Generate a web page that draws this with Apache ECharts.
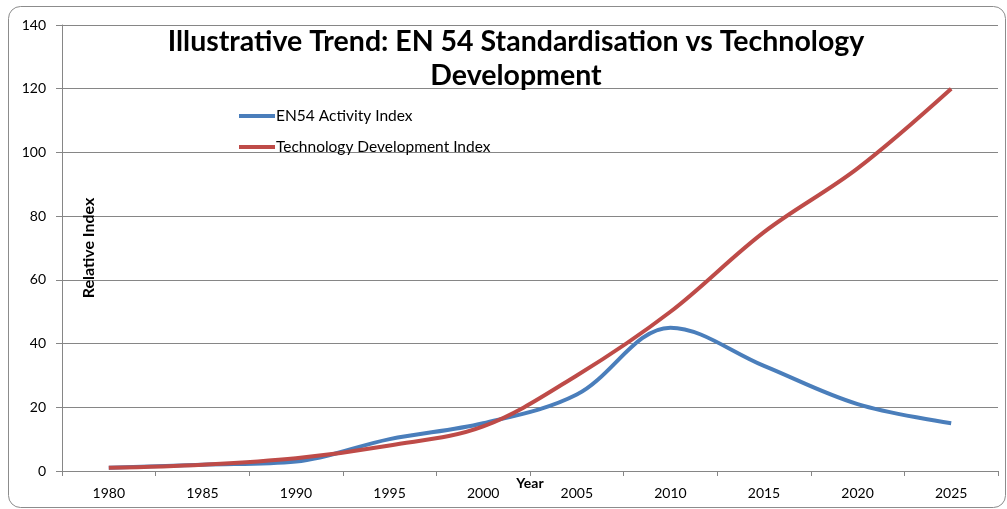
<!DOCTYPE HTML>
<html>
<head>
    <meta charset="utf-8">
    <title>EN 54 Standardisation vs Technology Development</title>
    <script type="text/javascript" src="https://cdn.jsdelivr.net/npm/echarts@6/dist/echarts.min.js"></script>
</head>
<body style="padding:0px;margin:0px;background:#fff;">
    <div id="main" style="width:1007px;height:509px;padding:0px;margin:0px;"></div>
    <script type="text/javascript">
        // 数据
        var years = ['1980', '1985', '1990', '1995', '2000', '2005', '2010', '2015', '2020', '2025'];
        var en54Activity = [1, 2, 3, 10, 15, 24, 45, 33, 21, 15];
        var techDevelopment = [1, 2, 4, 8, 14, 30, 50, 75, 95, 120];
        var yTicks = [0, 20, 40, 60, 80, 100, 120, 140];

        var myChart = echarts.init(document.getElementById('main'));
        var font = 'Lato, "Open Sans", sans-serif';

        option = {
            backgroundColor: '#fff',
            animation: false,
            title: {
                text: 'Illustrative Trend: EN 54 Standardisation vs Technology\nDevelopment',
                left: 511,
                top: 20,
                textAlign: 'center',
                textStyle: {
                    fontFamily: font,
                    fontWeight: 'bold',
                    fontSize: 28.5,
                    lineHeight: 34,
                    color: '#000'
                }
            },
            legend: {
                orient: 'vertical',
                left: 234,
                top: 103,
                itemWidth: 36,
                itemHeight: 4,
                itemGap: 15,
                icon: 'rect',
                textStyle: { fontFamily: font, fontSize: 15.5, color: '#000', padding: [0, 0, 0, -4] },
                data: ['EN54 Activity Index', 'Technology Development Index']
            },
            graphic: [{
                type: 'rect',
                shape: { x: 8.5, y: 6.5, width: 997, height: 501, r: 12 },
                style: { fill: null, stroke: '#8c8c8c', lineWidth: 1 },
                silent: true
            }],
            grid: { left: 62, right: 9, top: 25, bottom: 38, outerBoundsMode: 'none', containLabel: false },
            xAxis: {
                type: 'category',
                data: years,
                boundaryGap: true,
                name: 'Year',
                nameLocation: 'middle',
                nameGap: 5,
                nameMoveOverlap: false,
                nameTextStyle: { fontFamily: font, fontWeight: 'bold', fontSize: 14, color: '#000' },
                axisLine: { lineStyle: { color: '#868686', width: 1 } },
                axisTick: { show: true, length: 5, lineStyle: { color: '#868686' } },
                axisLabel: { fontFamily: font, fontSize: 14, color: '#000', margin: 15 }
            },
            yAxis: {
                type: 'value',
                min: yTicks[0],
                max: yTicks[yTicks.length - 1],
                interval: 20,
                name: 'Relative Index',
                nameLocation: 'middle',
                nameRotate: 90,
                nameGap: -35,
                nameMoveOverlap: false,
                nameTextStyle: { fontFamily: font, fontWeight: 'bold', fontSize: 16, color: '#000' },
                axisLine: { show: true, lineStyle: { color: '#868686', width: 1 } },
                axisTick: { show: true, length: 6, lineStyle: { color: '#868686' } },
                splitLine: { lineStyle: { color: '#868686', width: 1 } },
                axisLabel: { fontFamily: font, fontSize: 14, color: '#000', margin: 16 }
            },
            series: [
                {
                    name: 'EN54 Activity Index',
                    type: 'line',
                    data: en54Activity,
                    smooth: 0.35,
                    showSymbol: false,
                    lineStyle: { color: '#4a7ebb', width: 4 },
                    itemStyle: { color: '#4a7ebb' }
                },
                {
                    name: 'Technology Development Index',
                    type: 'line',
                    data: techDevelopment,
                    smooth: 0.35,
                    showSymbol: false,
                    lineStyle: { color: '#be4b48', width: 4 },
                    itemStyle: { color: '#be4b48' }
                }
            ]
        };
        myChart.setOption(option);
    </script>
</body>
</html>
